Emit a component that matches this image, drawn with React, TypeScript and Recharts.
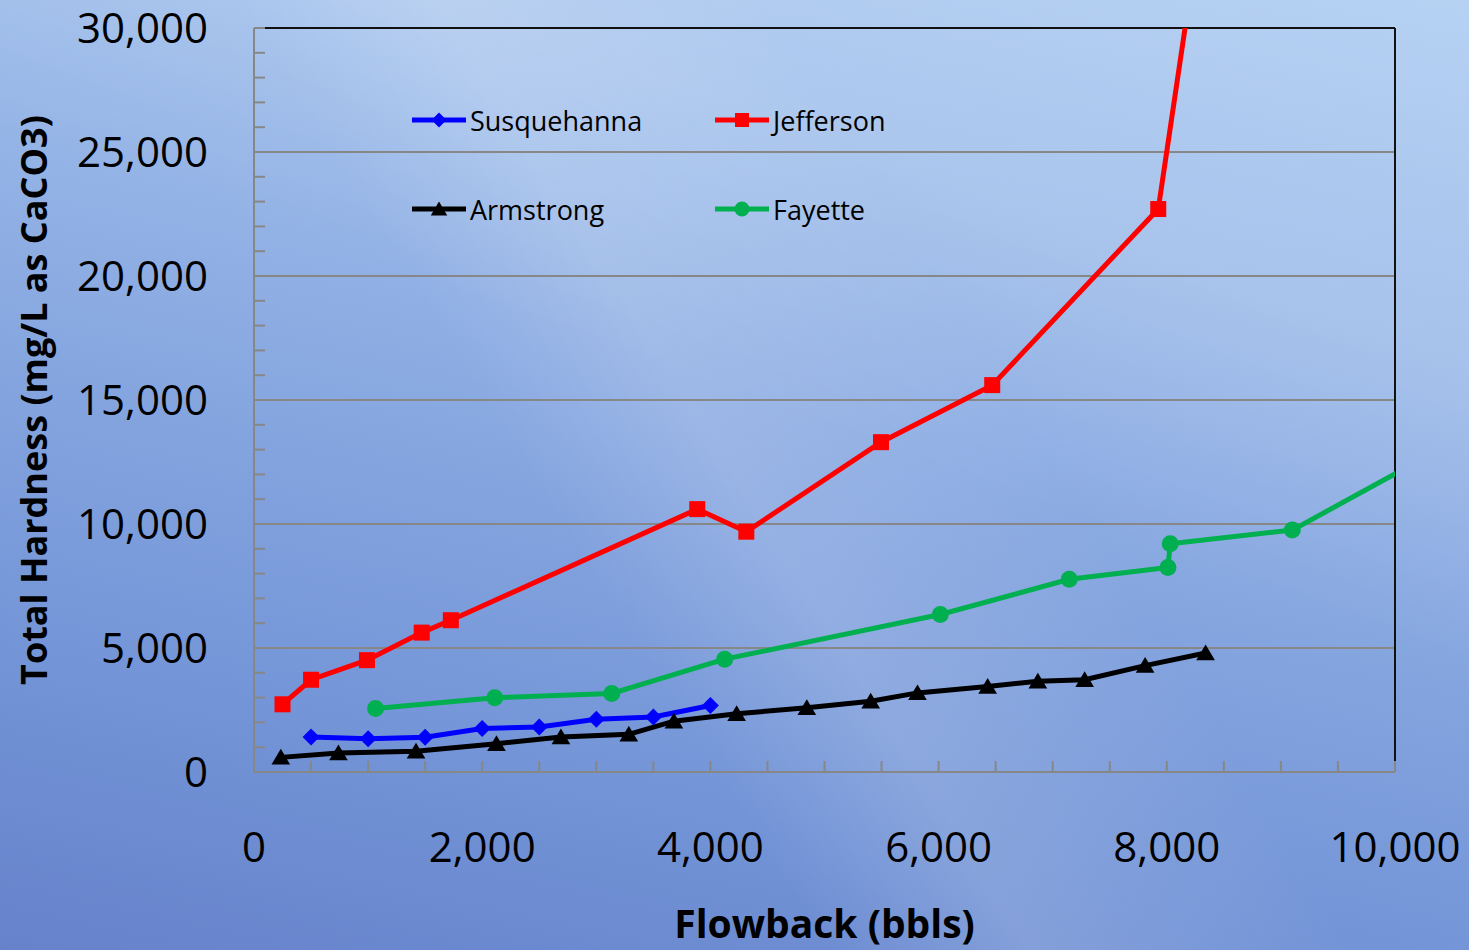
import React from 'react';
import { LineChart, Line, XAxis, YAxis, ReferenceLine, Legend } from 'recharts';

// flowback (bbls) / total hardness (mg/L as CaCO3)
const susqX = [500, 1000, 1500, 2000, 2500, 3000, 3500, 4000];
const susqY = [1410, 1345, 1400, 1750, 1815, 2125, 2220, 2680];

const jeffX = [250, 500, 990, 1470, 1725, 3885, 4315, 5495, 6470, 7925, 8300];
const jeffY = [2730, 3720, 4510, 5620, 6120, 10600, 9690, 13300, 15600, 22700, 34350];

const armX = [235, 740, 1420, 2125, 2690, 3285, 3680, 4230, 4845, 5405, 5815, 6430, 6870, 7280, 7810, 8340];
const armY = [590, 770, 840, 1140, 1410, 1520, 2050, 2350, 2590, 2850, 3190, 3450, 3660, 3720, 4290, 4800];

const fayX = [1065, 2110, 3135, 4125, 6015, 7145, 8010, 8030, 9100, 10500];
const fayY = [2560, 2990, 3165, 4550, 6350, 7770, 8250, 9205, 9755, 13280];

const xTicks = [0, 500, 1000, 1500, 2000, 2500, 3000, 3500, 4000, 4500, 5000, 5500, 6000, 6500, 7000, 7500, 8000, 8500, 9000, 9500, 10000];
const xLabels = [0, 2000, 4000, 6000, 8000, 10000];
const yTicks = [
  0, 1000, 2000, 3000, 4000, 5000, 6000, 7000, 8000, 9000, 10000, 11000, 12000, 13000, 14000, 15000,
  16000, 17000, 18000, 19000, 20000, 21000, 22000, 23000, 24000, 25000, 26000, 27000, 28000, 29000, 30000,
];
const yLabels = [0, 5000, 10000, 15000, 20000, 25000, 30000];
const gridY = [5000, 10000, 15000, 20000, 25000];

const toPoints = (xs: number[], ys: number[]) => xs.map((x, i) => ({ x, y: ys[i] }));

const series = [
  { name: 'Susquehanna', color: '#0000ff', shape: 'diamond', data: toPoints(susqX, susqY) },
  { name: 'Jefferson', color: '#ff0000', shape: 'square', data: toPoints(jeffX, jeffY) },
  { name: 'Armstrong', color: '#000000', shape: 'triangle', data: toPoints(armX, armY) },
  { name: 'Fayette', color: '#00b050', shape: 'circle', data: toPoints(fayX, fayY) },
];

const FONT = '"Open Sans", "Noto Sans", sans-serif';

function marker(shape: string, color: string, cx: number, cy: number, s: number, key?: any) {
  if (shape === 'diamond') {
    return <polygon key={key} points={`${cx},${cy - s} ${cx + s},${cy} ${cx},${cy + s} ${cx - s},${cy}`} fill={color} />;
  }
  if (shape === 'square') {
    return <rect key={key} x={cx - s} y={cy - s} width={s * 2} height={s * 2} fill={color} />;
  }
  if (shape === 'triangle') {
    return <polygon key={key} points={`${cx},${cy - s} ${cx + s * 1.1},${cy + s * 0.85} ${cx - s * 1.1},${cy + s * 0.85}`} fill={color} />;
  }
  return <circle key={key} cx={cx} cy={cy} r={s} fill={color} />;
}

const LegendBox = () => (
  <div style={{ display: 'grid', gridTemplateColumns: '303px 220px', gridAutoRows: '89px', fontFamily: FONT, fontSize: 27 }}>
    {series.map((s) => (
      <div key={s.name} style={{ display: 'flex', alignItems: 'center', height: 44 }}>
        <svg width={58} height={20} style={{ marginRight: 2 }}>
          <line x1={2} y1={10} x2={56} y2={10} stroke={s.color} strokeWidth={5} />
          {marker(s.shape, s.color, 29, 10, s.shape === 'square' ? 7 : 7.5)}
        </svg>
        <span style={{ color: '#000' }}>{s.name}</span>
      </div>
    ))}
  </div>
);

const YTitle = (props: any) => {
  const vb = props.viewBox;
  const cx = vb.x + 33;
  const cy = vb.y + vb.height / 2;
  return (
    <text x={cx} y={cy} transform={`rotate(-90, ${cx}, ${cy})`} textAnchor="middle" dominantBaseline="central"
      fontFamily={FONT} fontWeight={700} fontSize={36} fill="#000">
      Total Hardness (mg/L as CaCO3)
    </text>
  );
};

const XTitle = (props: any) => {
  const vb = props.viewBox;
  return (
    <text x={vb.x + vb.width / 2} y={vb.y + 166} textAnchor="middle" fontFamily={FONT} fontWeight={700} fontSize={39} fill="#000">
      Flowback (bbls)
    </text>
  );
};

const fmt = (labels: number[]) => (v: number) => (labels.includes(v) ? v.toLocaleString('en-US') : '');

export default function App() {
  return (
    <div
      style={{
        position: 'absolute',
        left: 0,
        top: 0,
        width: 1469,
        height: 950,
        background:
          'linear-gradient(58deg, rgba(255,255,255,0) 40%, rgba(255,255,255,0.14) 50%, rgba(255,255,255,0.05) 60%, rgba(255,255,255,0) 66%),' +
          'linear-gradient(20deg, rgba(255,255,255,0) 55%, rgba(255,255,255,0.12) 75%, rgba(255,255,255,0.05) 100%),' +
          'linear-gradient(192deg, #b2cff2 0%, #9bbae9 28%, #84a4df 55%, #7293d6 78%, #6682cb 100%)',
      }}
    >
      <LineChart width={1469} height={950} margin={{ top: 28, right: 74, bottom: 0, left: 0 }}>
        <XAxis
          type="number"
          dataKey="x"
          domain={[0, 10000]}
          allowDataOverflow
          ticks={xTicks}
          interval={0}
          tickFormatter={fmt(xLabels)}
          height={178}
          stroke="#878787"
          strokeWidth={2}
          tickSize={-11}
          tickMargin={71}
          tick={{ fontSize: 42, fill: '#000', fontFamily: FONT }}
          label={XTitle}
        />
        <YAxis
          type="number"
          dataKey="y"
          domain={[0, 30000]}
          allowDataOverflow
          ticks={yTicks}
          interval={0}
          tickFormatter={fmt(yLabels)}
          width={254}
          stroke="#878787"
          strokeWidth={2}
          tickSize={-11}
          tickMargin={57}
          tick={{ fontSize: 42, fill: '#000', fontFamily: FONT }}
          label={YTitle}
        />
        {gridY.map((v) => (
          <ReferenceLine key={v} y={v} stroke="#878787" strokeWidth={2} />
        ))}
        <ReferenceLine y={30000} stroke="#111" strokeWidth={2} />
        <ReferenceLine x={10000} stroke="#111" strokeWidth={2} />
        {series.map((s) => (
          <Line
            key={s.name}
            data={s.data}
            dataKey="y"
            name={s.name}
            type="linear"
            stroke={s.color}
            strokeWidth={5}
            isAnimationActive={false}
            dot={(p: any) => marker(s.shape, s.color, p.cx, p.cy, s.shape === 'square' ? 8 : 8.5, p.index)}
            activeDot={false}
          />
        ))}
        <Legend
          layout="horizontal"
          verticalAlign="middle"
          align="center"
          content={LegendBox}
          wrapperStyle={{ top: 98, left: 410, width: 540 }}
        />
      </LineChart>
    </div>
  );
}
